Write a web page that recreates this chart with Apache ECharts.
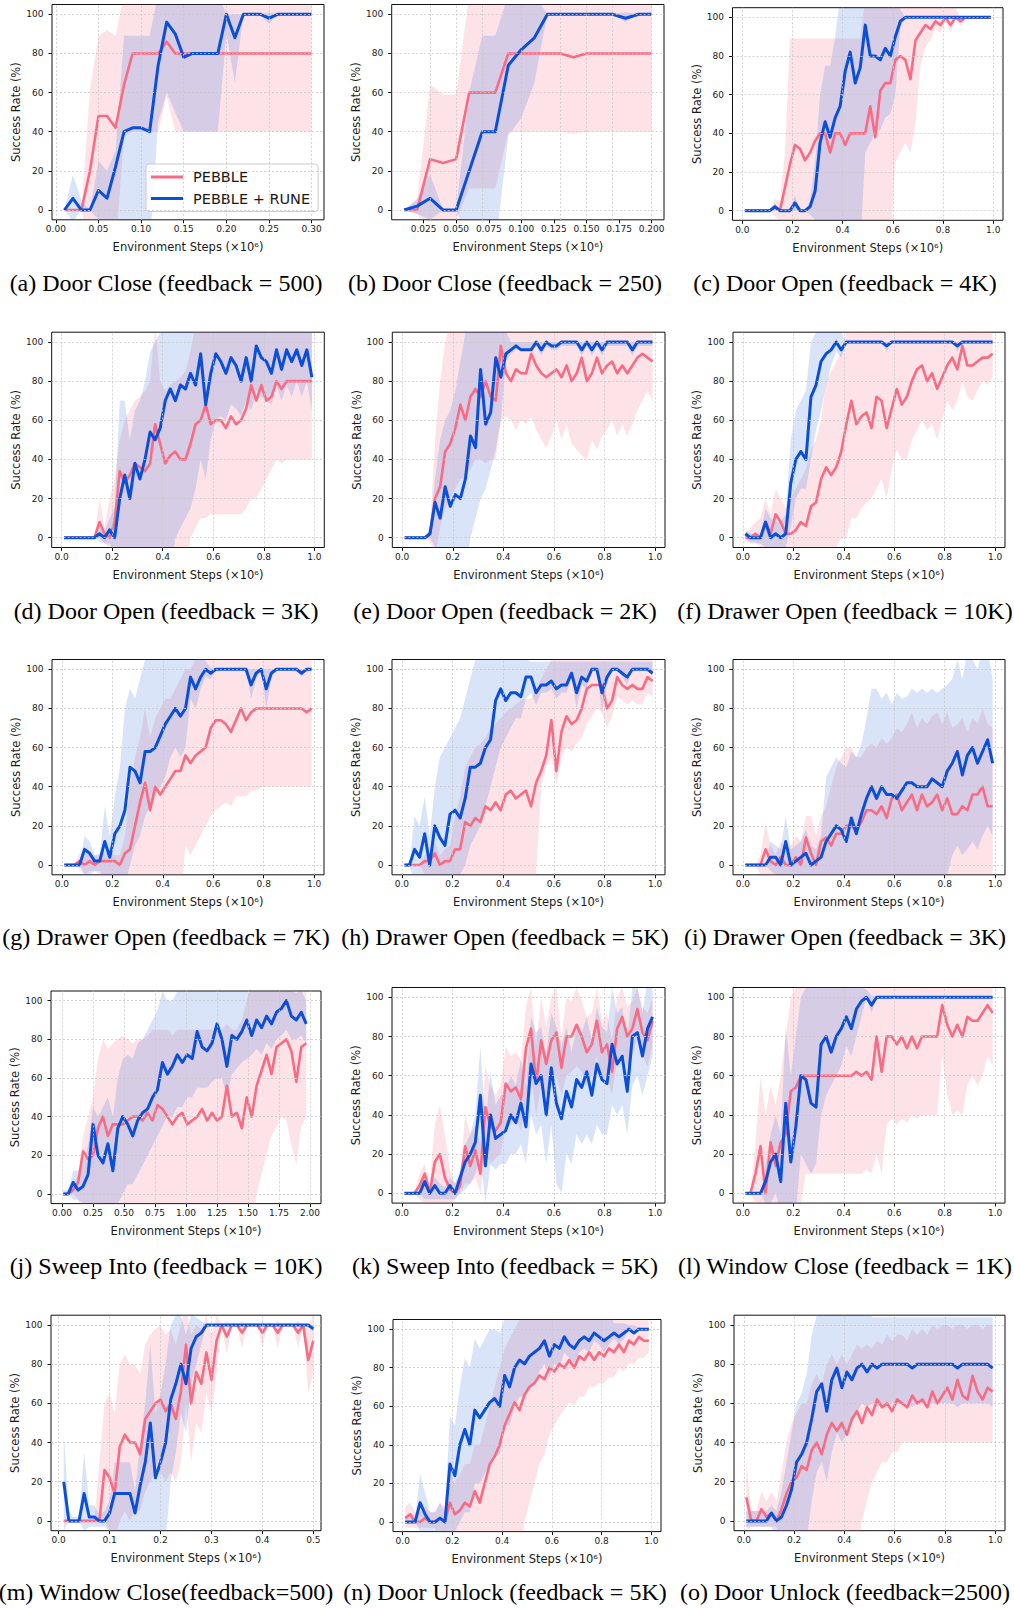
<!DOCTYPE html>
<html><head><meta charset="utf-8">
<script src="https://cdn.jsdelivr.net/npm/echarts@6/dist/echarts.min.js"></script>
<style>html,body{margin:0;padding:0;background:#fff}#chart{width:1014px;height:1608px}</style>
</head><body><div id="chart"></div>
<script>
// ---------------- DATA ----------------
const SERIES_NAMES = ['PEBBLE', 'PEBBLE + RUNE'];
const Y_TICKS = [0, 20, 40, 60, 80, 100];
const TICKS_A = [0, 0.05, 0.1, 0.15, 0.2, 0.25, 0.3];
const TICKS_B = [0.025, 0.05, 0.075, 0.1, 0.125, 0.15, 0.175, 0.2];
const TICKS_1M = [0, 0.2, 0.4, 0.6, 0.8, 1.0];
const TICKS_J = [0, 0.25, 0.5, 0.75, 1.0, 1.25, 1.5, 1.75, 2.0];
const TICKS_M = [0, 0.1, 0.2, 0.3, 0.4, 0.5];
const CAPTIONS = [
  '(a) Door Close (feedback = 500)', '(b) Door Close (feedback = 250)', '(c) Door Open (feedback = 4K)',
  '(d) Door Open (feedback = 3K)', '(e) Door Open (feedback = 2K)', '(f) Drawer Open (feedback = 10K)',
  '(g) Drawer Open (feedback = 7K)', '(h) Drawer Open (feedback = 5K)', '(i) Drawer Open (feedback = 3K)',
  '(j) Sweep Into (feedback = 10K)', '(k) Sweep Into (feedback = 5K)', '(l) Window Close (feedback = 1K)',
  '(m) Window Close(feedback=500)', '(n) Door Unlock (feedback = 5K)', '(o) Door Unlock (feedback=2500)'
];

const X_A = [0.01,0.02,0.03,0.04,0.05,0.06,0.07,0.08,0.09,0.10, 0.11,0.12,0.13,0.14,0.15,0.16,0.17,0.18,0.19,0.20, 0.21,0.22,0.23,0.24,0.25,0.26,0.27,0.28,0.29,0.30];
const X_B = [0.01,0.02,0.03,0.04,0.05,0.06,0.07,0.08,0.09,0.10, 0.11,0.12,0.13,0.14,0.15,0.16,0.17,0.18,0.19,0.20];
const X_1M = [0.01,0.03,0.05,0.07,0.09,0.11,0.13,0.15,0.17,0.19, 0.21,0.23,0.25,0.27,0.29,0.31,0.33,0.35,0.37,0.39, 0.41,0.43,0.45,0.47,0.49,0.51,0.53,0.55,0.57,0.59, 0.61,0.63,0.65,0.67,0.69,0.71,0.73,0.75,0.77,0.79, 0.81,0.83,0.85,0.87,0.89,0.91,0.93,0.95,0.97,0.99];
const X_J = [0.01,0.05,0.09,0.13,0.17,0.21,0.25,0.29,0.33,0.37, 0.41,0.45,0.49,0.53,0.57,0.61,0.65,0.69,0.73,0.77, 0.81,0.85,0.89,0.93,0.97,1.01,1.05,1.09,1.13,1.17, 1.21,1.25,1.29,1.33,1.37,1.41,1.45,1.49,1.53,1.57, 1.61,1.65,1.69,1.73,1.77,1.81,1.85,1.89,1.93,1.97];
const X_M = [0.01,0.02,0.03,0.04,0.05,0.06,0.07,0.08,0.09,0.10, 0.11,0.12,0.13,0.14,0.15,0.16,0.17,0.18,0.19,0.20, 0.21,0.22,0.23,0.24,0.25,0.26,0.27,0.28,0.29,0.30, 0.31,0.32,0.33,0.34,0.35,0.36,0.37,0.38,0.39,0.40, 0.41,0.42,0.43,0.44,0.45,0.46,0.47,0.48,0.49,0.50];

// (a)
const A_PEB = [0,0,0,20,48,48,42,64,80,80, 80,80,86,80,80,80,80,80,80,80, 80,80,80,80,80,80,80,80,80,80];
const A_RUNE = [0,6,0,0,10,6,22,40,42,42, 40,74,96,90,78,80,80,80,80,100, 88,100,100,100,98,100,100,100,100,100];
const A_PEB_LO = [0,0,0,-20,-20,-20,-20,38,40,40, 40,40,58,40,40,40,40,40,40,40, 40,40,40,40,40,40,40,40,40,40];
const A_PEB_HI = [0,0,0,61,89,92,89,110,110,110, 110,110,110,110,110,110,110,110,110,110, 110,110,110,110,110,110,110,110,110,110];
const A_RUNE_LO = [0,-6,0,0,-5,-10,-20,-20,-20,-20, -20,45,60,50,40,40,40,40,40,90, 65,100,100,100,95,100,100,100,100,100];
const A_RUNE_HI = [0,18,5,0,25,20,30,89,89,89, 89,110,110,110,110,110,110,110,110,100, 100,100,100,100,101,100,100,100,100,100];
// (b)
const B_PEB = [0,0,26,24,26,60,60,60,80,80, 80,80,80,78,80,80,80,80,80,80];
const B_RUNE = [0,2,6,0,0,20,40,40,74,82, 88,100,100,100,100,100,100,98,100,100];
const B_PEB_LO = [0,-2,-10,-5,-5,11,11,11,40,40, 40,40,40,39,40,40,40,40,40,40];
const B_PEB_HI = [0,5,64,59,59,110,110,110,110,110, 110,110,110,110,110,110,110,110,110,110];
const B_RUNE_LO = [0,-2,-5,0,0,-20,-20,-20,38,47, 65,100,100,100,100,100,100,96,100,100];
const B_RUNE_HI = [0,6,18,0,0,60,89,89,110,110, 110,100,100,100,100,100,100,101,100,100];
// (c)
const C_PEB = [0,0,0,0,0,0,2,0,12,24, 34,32,26,30,36,40,40,30,40,40, 34,40,40,40,40,54,38,62,66,66, 78,80,78,68,88,92,96,94,98,96, 100,96,100,98,100,100,100,100,100,100];
const C_RUNE = [0,0,0,0,0,0,2,0,0,0, 4,0,0,2,10,35,46,38,48,54, 72,82,66,74,96,80,80,78,84,80, 90,98,100,100,100,100,100,100,100,100, 100,100,100,100,100,100,100,100,100,100];
const C_PEB_LO = [0,0,0,0,0,0,-3,-5,-20,-20, -20,-20,-20,-20,-20,-20,-20,-20,-20,-20, -20,-20,-20,-20,-20,-20,-20,-20,-20,-20, 25,30,35,30,45,75,85,88,94,92, 98,92,100,95,100,100,100,100,100,100];
const C_PEB_HI = [0,0,0,0,0,0,6,5,30,89, 89,89,89,89,89,89,89,89,89,89, 89,89,89,89,110,110,110,110,110,110, 110,110,110,110,110,110,110,110,110,110, 110,110,105,100,100,100,100,100,100,100];
const C_RUNE_LO = [0,0,0,0,0,0,0,0,0,0, 0,0,0,-2,-5,-5,-5,-10,-20,-20, -20,-20,-20,-20,30,35,40,42,48,50, 60,95,100,100,100,100,100,100,100,100, 100,100,100,100,100,100,100,100,100,100];
const C_RUNE_HI = [0,0,0,0,0,0,4,0,0,0, 8,0,0,5,25,60,75,75,90,110, 110,110,110,110,110,110,110,110,110,110, 110,104,100,100,100,100,100,100,100,100, 100,100,100,100,100,100,100,100,100,100];
// (d)
const D_PEB = [0,0,0,0,0,0,0,8,2,0, 8,34,28,32,38,36,34,38,58,48, 38,42,44,40,40,48,58,60,68,58, 60,60,56,62,58,60,66,78,70,78, 70,72,80,76,80,80,80,80,80,80];
const D_RUNE = [0,0,0,0,0,0,0,2,0,4, 0,20,32,20,38,30,40,54,50,56, 70,76,70,78,76,84,78,94,68,84, 94,90,84,92,88,80,92,80,98,92, 90,84,96,86,96,90,96,88,96,82];
const D_PEB_LO = [0,0,0,0,0,0,0,0,-3,-5, -10,-20,-20,-20,-20,-20,-20,-20,-20,-20, -20,-20,-20,-20,-20,0,5,10,10,12, 12,12,12,12,12,12,15,20,20,25, 30,35,40,38,40,40,40,40,40,40];
const D_PEB_HI = [0,0,0,0,0,0,0,20,5,20, 30,50,60,65,70,72,75,80,110,80, 75,78,80,82,85,95,110,110,110,110, 110,110,110,110,110,110,110,110,110,110, 110,110,110,110,110,110,110,110,110,110];
const D_RUNE_LO = [0,0,0,0,0,0,0,-2,-3,-3, -8,-20,-20,-20,-20,-20,-20,-20,-20,-20, -20,-20,0,5,10,15,25,40,30,50, 60,62,60,68,66,62,70,65,75,72, 70,68,78,70,78,72,80,72,80,65];
const D_RUNE_HI = [0,0,0,0,0,0,0,5,3,10, 15,70,70,50,65,70,80,95,100,105, 110,110,110,110,110,110,110,110,110,110, 110,110,110,110,110,110,110,110,110,110, 110,110,110,110,110,110,110,110,110,110];
// (e)
const E_PEB = [0,0,0,0,0,2,20,26,44,48, 56,68,60,72,76,72,80,72,70,98, 84,80,86,84,84,94,88,84,82,84, 86,82,88,80,84,92,80,84,92,84, 88,90,84,88,84,88,92,94,92,90];
const E_RUNE = [0,0,0,0,0,2,18,10,26,16, 22,20,30,52,46,86,58,64,92,82, 94,96,98,96,96,96,100,96,100,98, 98,100,100,100,100,96,100,96,100,96, 100,100,100,100,100,96,100,100,100,100];
const E_PEB_LO = [0,0,0,0,0,-2,-10,5,15,20, 25,30,30,35,40,40,38,40,40,60, 62,60,55,60,58,62,55,50,46,52, 60,50,58,48,45,42,40,50,45,52, 55,60,52,58,52,58,65,70,75,70];
const E_PEB_HI = [0,0,0,0,0,5,50,80,100,110, 110,110,110,110,110,110,110,110,110,110, 110,110,110,110,110,110,110,110,110,110, 110,110,110,110,110,110,110,110,110,110, 110,110,110,110,110,110,110,110,110,110];
const E_RUNE_LO = [0,0,0,0,0,0,-5,-15,-20,-20, -20,-20,-20,0,10,20,25,35,45,60, 90,94,96,96,96,96,98,93,98,96, 96,98,98,98,98,93,98,93,98,93, 98,98,98,98,98,93,98,98,98,98];
const E_RUNE_HI = [0,0,0,0,0,5,30,50,60,65, 75,90,105,110,110,110,110,110,110,110, 105,100,100,100,100,100,100,100,100,100, 100,100,100,100,100,100,100,100,100,100, 100,100,100,100,100,100,100,100,100,100];
// (f)
const F_PEB = [0,0,2,0,8,2,12,8,2,2, 4,8,6,16,18,30,36,32,36,44, 58,70,58,62,64,56,72,70,56,66, 76,68,72,80,86,88,80,84,76,82, 88,92,86,98,88,88,90,92,92,94];
const F_RUNE = [2,0,0,0,8,0,2,0,2,28, 40,44,40,72,78,90,94,96,100,96, 100,100,100,100,100,100,100,100,98,100, 100,100,100,100,100,100,100,100,100,100, 100,100,98,100,100,100,100,100,100,100];
const F_PEB_LO = [-2,-2,-2,-5,-5,-5,-5,-5,-5,-10, -20,-20,-20,-20,-20,-20,-20,-20,-5,0, 0,10,10,15,18,20,25,30,20,35, 45,40,40,50,55,60,55,58,50,60, 70,65,70,80,72,70,75,80,78,82];
const F_PEB_HI = [2,5,8,10,20,12,25,20,15,20, 25,30,35,45,50,60,80,85,90,95, 105,110,110,110,110,110,110,110,110,110, 110,110,110,110,110,110,110,110,110,110, 110,110,110,110,110,110,110,110,110,110];
const F_RUNE_LO = [0,-3,-3,-3,-5,-5,-5,-5,-5,5, 20,25,25,40,55,65,78,88,95,92, 100,100,100,100,100,100,100,100,95,100, 100,100,100,100,100,100,100,100,100,100, 100,100,95,100,100,100,100,100,100,100];
const F_RUNE_HI = [4,2,2,2,15,10,8,8,12,50, 65,70,75,100,105,110,110,110,110,105, 100,100,100,100,100,100,100,100,100,100, 100,100,100,100,100,100,100,100,100,100, 100,100,100,100,100,100,100,100,100,100];
// (g)
const G_PEB = [0,0,0,2,0,2,0,2,2,2, 2,0,6,8,20,32,42,28,40,36, 40,44,48,48,56,52,56,58,60,70, 74,74,72,68,74,80,74,78,80,80, 80,80,80,80,80,80,80,80,78,80];
const G_RUNE = [0,0,0,0,8,6,2,2,12,4, 16,20,28,50,48,42,58,58,60,66, 72,76,80,76,80,96,90,96,100,98, 100,100,100,100,100,100,100,92,98,100, 90,98,100,100,100,100,100,98,100,100];
const G_PEB_LO = [0,0,0,-2,-5,-3,-3,-5,-5,-5, -5,-5,-5,-20,-20,-20,-20,-20,-20,-20, -20,-20,-20,-20,10,5,10,15,20,25, 28,30,32,30,35,35,35,38,38,40, 40,40,40,40,40,40,40,40,40,40];
const G_PEB_HI = [0,0,0,6,6,5,5,6,6,6, 5,5,15,40,55,65,80,65,75,80, 85,85,90,95,100,100,105,110,110,110, 110,110,110,110,110,110,110,110,110,110, 110,110,110,110,110,110,110,110,110,110];
const G_RUNE_LO = [0,0,0,0,-5,-5,-3,-3,-10,-10, -10,-10,-10,0,10,15,25,30,35,40, 45,55,60,55,60,85,80,90,96,95, 100,100,100,100,100,100,100,85,95,100, 80,95,100,100,100,100,100,96,100,100];
const G_RUNE_HI = [0,0,0,0,15,12,5,5,30,15, 35,50,80,90,85,95,105,110,110,110, 110,110,110,110,110,110,110,110,104,101, 100,100,100,100,100,100,100,100,100,100, 100,100,100,100,100,100,100,100,100,100];
// (h)
const H_PEB = [0,0,0,0,2,2,6,0,2,2, 8,8,22,20,24,22,30,28,32,28, 36,38,34,36,38,30,42,48,56,74, 48,68,76,72,74,80,90,92,92,92, 80,84,96,92,90,92,90,90,96,94];
const H_RUNE = [0,0,8,4,16,0,20,14,10,26, 28,24,34,50,50,52,60,64,84,90, 84,88,88,86,96,96,88,92,92,94, 90,92,92,98,88,96,94,100,100,88, 96,100,100,98,96,100,100,100,100,98];
const H_PEB_LO = [0,0,0,0,-5,-5,-5,-5,-5,-5, -10,-20,-20,-20,-20,-20,-20,-20,-20,-20, -20,-20,-20,-20,-20,-20,-5,40,50,55, 40,55,60,58,62,65,72,76,80,78, 70,76,86,84,82,84,82,82,88,86];
const H_PEB_HI = [0,0,0,0,5,6,12,5,8,10, 25,35,50,55,60,62,65,70,72,75, 78,80,82,84,85,85,90,95,100,105, 105,110,110,110,110,110,110,110,110,110, 110,110,110,110,110,105,105,105,105,105];
const H_RUNE_LO = [0,0,-10,-10,-10,-10,-10,-10,-10,-10, -10,-5,0,10,15,20,30,40,50,60, 65,70,75,75,85,88,82,88,88,90, 85,88,88,95,80,92,90,100,100,78, 92,100,100,96,92,100,100,100,100,96];
const H_RUNE_HI = [0,0,25,20,35,15,40,55,60,65, 70,75,85,95,105,110,110,110,110,110, 110,110,110,110,105,104,104,104,104,104, 104,104,104,104,104,104,104,104,104,104, 104,104,104,104,104,104,104,104,104,104];
// (i)
const I_PEB = [0,0,0,0,8,2,0,4,0,0, 4,0,14,6,0,12,14,10,16,16, 20,20,18,22,28,28,26,30,24,34, 36,28,32,36,28,36,30,32,36,28, 34,26,26,30,28,36,36,40,30,30];
const I_RUNE = [0,0,0,0,0,4,4,0,12,0, 2,4,6,0,2,4,12,16,20,18, 12,24,16,26,34,40,34,40,36,36, 34,38,42,42,40,40,40,44,42,40, 48,52,58,46,56,60,52,58,64,52];
const I_PEB_LO = [0,0,0,-5,-5,-5,-5,-5,-5,-5, -5,-5,-8,-8,-5,-10,-20,-20,-20,-20, -20,-20,-20,-20,-20,-20,-20,-20,-20,-20, -20,-20,-20,-20,-20,-20,-20,-20,-20,-20, -10,-10,-10,-10,-10,-10,-10,-10,-10,-10];
const I_PEB_HI = [0,0,0,5,22,10,5,12,8,10, 15,12,25,25,15,25,30,40,50,55, 60,60,55,55,60,62,60,65,62,65, 70,68,72,78,70,75,72,76,78,72, 78,70,72,75,68,75,72,80,72,70];
const I_RUNE_LO = [0,0,0,0,0,-3,-5,-5,-5,-5, -5,-5,-5,-5,-5,-5,-20,-20,-20,-20, -20,-20,-20,-20,-20,-20,-20,-20,-20,-20, -20,-20,-20,-20,-20,-20,-20,-20,-20,-20, -5,5,10,5,8,12,8,15,20,15];
const I_RUNE_HI = [0,0,0,0,0,12,10,8,25,8, 10,12,18,10,8,15,45,50,55,52, 50,58,55,62,75,90,90,85,88,82, 88,85,86,90,88,90,88,90,88,90, 92,95,105,95,110,105,100,110,110,95];
// (j)
const J_PEB = [0,0,2,6,22,18,20,34,40,30, 36,36,36,38,40,40,38,42,38,46, 44,40,36,40,42,36,38,40,44,38, 42,38,40,56,40,42,34,50,40,56, 64,72,62,76,78,80,74,58,76,78];
const J_RUNE = [0,0,6,2,4,10,36,20,16,26, 12,34,40,36,30,38,42,44,50,54, 68,62,66,72,68,72,70,84,76,74, 78,88,80,66,82,80,84,90,82,90, 86,92,88,94,96,100,92,90,94,88];
const J_PEB_LO = [0,0,0,-3,-20,-20,-20,-20,-20,-20, -20,-20,-20,-20,-20,-20,-20,-20,-20,-20, -20,-20,-20,-20,-20,-20,-20,-20,-20,-20, -20,-20,-20,-20,-20,-20,-20,-20,-20,0, 10,20,30,35,40,38,25,15,35,40];
const J_PEB_HI = [0,0,5,10,30,40,50,70,80,75, 78,80,82,80,78,80,80,82,85,85, 85,85,82,85,85,85,85,85,85,85, 85,85,85,88,85,85,90,100,110,110, 110,110,110,110,110,110,110,110,110,110];
const J_RUNE_LO = [0,0,-3,-3,-5,-10,-10,-10,-10,-10, -10,-5,0,5,5,10,15,20,25,30, 35,40,40,45,45,50,50,55,55,55, 58,60,60,50,62,65,68,70,72,75, 72,78,75,80,82,85,80,80,82,78];
const J_RUNE_HI = [2,2,12,12,15,25,45,40,45,50, 40,60,70,72,70,78,80,85,90,95, 105,100,100,105,105,110,110,110,110,110, 110,110,110,110,110,110,110,110,110,110, 110,110,110,110,108,110,105,104,105,100];
// (k)
const K_PEB = [0,0,0,4,10,0,16,20,8,2, 0,4,24,14,22,10,44,34,32,36, 56,52,54,48,74,84,56,78,66,78, 82,64,80,80,86,80,72,76,88,72, 76,62,84,90,80,84,94,82,78,88];
const K_RUNE = [0,0,0,0,6,0,4,0,0,4, 0,8,16,20,26,50,14,40,28,30, 32,40,36,46,34,66,56,60,40,64, 46,38,52,44,58,54,62,50,66,58, 56,76,66,70,52,80,82,70,84,90];
const K_PEB_LO = [0,0,0,-3,-5,-5,-5,-5,-5,-5, -3,0,5,5,8,0,20,15,18,20, 35,35,38,32,45,60,40,55,50,55, 60,50,60,62,65,62,55,60,70,58, 60,50,68,72,65,70,80,70,65,75];
const K_PEB_HI = [0,0,0,10,15,5,35,45,30,12, 5,10,40,30,35,25,65,55,50,55, 75,70,72,68,95,105,75,100,85,100, 105,80,100,98,105,98,90,92,105,88, 92,78,100,105,95,98,105,95,92,100];
const K_RUNE_LO = [0,0,0,0,-3,-3,-3,-3,-3,-3, -3,0,2,5,10,20,-5,15,12,15, 15,20,20,25,15,40,30,35,15,35, 5,0,20,15,30,25,30,25,35,30, 30,45,40,45,30,55,60,50,60,70];
const K_RUNE_HI = [0,0,0,0,10,5,8,5,3,8, 5,12,25,30,40,75,35,62,45,50, 52,60,55,68,55,90,82,85,70,92, 85,75,85,72,85,82,90,78,95,85, 82,105,92,95,78,105,105,92,108,108];
// (l)
const L_PEB = [0,0,10,24,0,26,14,26,30,52, 54,60,60,60,60,60,60,60,60,60, 60,60,62,60,62,58,80,62,80,80, 76,80,74,80,74,80,80,80,80,96, 86,80,86,80,90,88,88,92,96,92];
const L_RUNE = [0,0,0,0,6,16,20,6,46,16, 34,60,58,46,44,76,80,72,80,84, 90,84,94,98,100,96,100,100,100,100, 100,100,100,100,100,100,100,100,100,100, 100,100,100,100,100,100,100,100,100,100];
const L_PEB_LO = [0,0,-5,-5,-20,-20,-20,-20,-20,-20, -20,-5,10,10,10,10,10,10,10,10, 10,10,10,10,12,10,20,10,35,38, 35,38,36,40,38,40,40,40,40,70, 50,40,42,40,55,60,55,60,70,65];
const L_PEB_HI = [0,0,25,60,40,55,45,60,80,100, 105,110,110,110,110,110,110,110,110,110, 110,110,110,110,110,110,110,110,110,110, 110,110,110,110,110,110,110,110,110,110, 110,110,110,110,110,110,110,110,110,110];
const L_RUNE_LO = [0,0,0,0,-5,-5,0,-10,-10,-15, -10,20,15,10,15,40,50,55,60,65, 75,70,80,90,100,92,100,100,100,100, 100,100,100,100,100,100,100,100,100,100, 100,100,100,100,100,100,100,100,100,100];
const L_RUNE_HI = [0,0,0,0,15,30,40,30,85,60, 80,100,105,105,105,110,110,110,110,110, 110,110,110,105,104,101,100,100,100,100, 100,100,100,100,100,100,100,100,100,100, 100,100,100,100,100,100,100,100,100,100];
// (m)
const M_PEB = [0,0,0,0,0,0,0,0,26,22, 14,38,44,40,40,34,52,56,60,62, 56,60,52,66,90,60,76,70,86,72, 92,100,94,100,100,96,100,100,100,96, 100,100,96,100,100,100,96,100,82,92];
const M_RUNE = [20,0,0,0,14,2,2,0,0,4, 14,14,14,14,4,18,30,50,22,30, 40,62,70,80,70,88,94,96,100,100, 100,100,100,100,100,100,100,100,100,100, 100,100,100,100,100,100,100,100,100,98];
const M_PEB_LO = [0,0,0,0,0,0,0,0,0,-5, -10,0,5,0,5,5,15,20,25,25, 20,25,20,30,60,30,50,45,65,55, 75,100,85,100,100,88,100,100,100,88, 100,100,88,100,100,100,88,100,65,75];
const M_PEB_HI = [0,0,0,0,0,0,0,30,60,65, 55,80,85,80,80,75,90,95,98,100, 95,98,90,100,110,95,100,98,105,95, 105,100,102,100,100,102,100,100,100,102, 100,100,102,100,100,100,102,100,100,105];
const M_RUNE_LO = [-5,0,0,0,-5,-3,-3,-3,-3,-5, -5,-5,-5,-5,-5,-10,-10,-10,-10,-10, -10,20,35,55,45,70,80,90,100,100, 100,100,100,100,100,100,100,100,100,100, 100,100,100,100,100,100,100,100,100,96];
const M_RUNE_HI = [45,5,2,2,35,8,8,3,5,10, 30,30,30,30,15,40,60,90,55,65, 80,100,105,105,95,105,104,102,100,100, 100,100,100,100,100,100,100,100,100,100, 100,100,100,100,100,100,100,100,100,100];
// (n)
const N_PEB = [2,4,0,0,2,0,0,2,0,10, 4,6,10,8,16,10,20,30,34,40, 50,56,62,58,66,70,72,76,74,80, 78,82,80,84,80,86,84,88,84,88, 86,90,88,92,88,94,92,96,94,94];
const N_RUNE = [0,0,0,10,4,0,0,2,0,30, 24,40,48,40,58,54,58,62,64,60, 76,70,80,84,82,86,88,90,94,86, 92,90,96,92,90,94,96,94,98,96, 94,96,98,96,98,100,98,100,100,100];
const N_PEB_LO = [-3,-3,-3,-3,-3,-3,-3,-20,-20,-20, -20,-20,-20,-20,-20,-20,-20,-20,-20,-20, -20,-20,-20,-20,0,10,20,30,35,45, 50,55,58,62,60,65,65,70,70,72, 72,75,75,80,78,82,82,85,85,88];
const N_PEB_HI = [8,10,5,5,8,5,5,10,8,25, 20,25,30,30,40,40,50,60,70,80, 90,95,100,105,110,110,110,110,110,110, 110,110,110,110,110,110,110,110,110,110, 110,110,110,110,110,110,105,105,105,105];
const N_RUNE_LO = [0,0,0,-5,-5,-5,-5,-5,-5,-5, -5,0,5,5,20,20,25,30,35,35, 50,50,60,65,65,70,72,78,82,75, 82,80,88,85,82,88,90,88,94,92, 88,92,95,92,95,100,100,100,100,100];
const N_RUNE_HI = [2,2,2,25,15,5,5,10,5,55, 50,70,85,80,95,90,95,100,100,98, 105,110,110,110,110,110,110,110,110,110, 110,110,110,110,110,110,110,110,110,110, 110,110,103,103,103,102,102,101,100,100];
// (o)
const O_PEB = [12,0,0,6,2,4,0,6,14,20, 22,28,26,36,40,34,44,50,46,50, 44,52,56,50,58,54,62,58,60,56, 62,60,58,64,60,62,58,66,60,64, 68,62,72,64,62,74,66,62,68,66];
const O_RUNE = [0,0,0,0,0,4,0,2,8,16, 30,34,40,52,66,70,56,72,78,68, 76,72,78,80,76,80,78,80,80,80, 80,80,80,78,80,80,80,80,80,80, 80,80,78,80,80,80,80,80,80,78];
const O_PEB_LO = [-5,-3,-3,-3,-3,-3,-3,-20,-20,-20, -20,-20,-20,-20,-20,-20,-20,-20,-20,-20, -20,-20,-20,0,10,20,25,30,30,35, 35,40,40,40,40,40,40,40,40,40, 40,40,40,40,40,40,40,40,40,40];
const O_PEB_HI = [30,5,5,15,10,15,10,25,40,50, 55,60,60,70,75,70,80,85,80,85, 80,85,90,88,90,88,92,90,95,92, 95,95,92,98,95,98,95,100,98,100, 100,98,100,100,98,100,100,98,100,100];
const O_RUNE_LO = [-3,-3,-3,-3,-3,-3,-10,-10,-10,-10, -10,-10,-10,10,25,30,20,35,45,40, 45,50,55,60,58,60,58,60,60,60, 60,60,60,58,60,60,60,60,60,60, 60,60,58,60,60,60,60,60,60,58];
const O_RUNE_HI = [5,5,5,5,5,8,5,15,30,45, 60,65,75,95,105,110,110,110,110,110, 110,110,110,110,110,104,104,104,104,104, 104,104,104,104,104,104,104,104,104,104, 104,104,104,104,104,104,104,104,104,104];

// ---------------- PANEL DEFINITIONS (data refs + axis ranges) ----------------
const PANELS = [
  {x:X_A, ticks:TICKS_A, dec:2, range:[-0.0045,0.3145], peb:A_PEB, rune:A_RUNE, pLo:A_PEB_LO, pHi:A_PEB_HI, rLo:A_RUNE_LO, rHi:A_RUNE_HI},
  {x:X_B, ticks:TICKS_B, dec:3, range:[0.0005,0.2095], peb:B_PEB, rune:B_RUNE, pLo:B_PEB_LO, pHi:B_PEB_HI, rLo:B_RUNE_LO, rHi:B_RUNE_HI},
  {x:X_1M, ticks:TICKS_1M, dec:1, range:[-0.039,1.039], peb:C_PEB, rune:C_RUNE, pLo:C_PEB_LO, pHi:C_PEB_HI, rLo:C_RUNE_LO, rHi:C_RUNE_HI},
  {x:X_1M, ticks:TICKS_1M, dec:1, range:[-0.039,1.039], peb:D_PEB, rune:D_RUNE, pLo:D_PEB_LO, pHi:D_PEB_HI, rLo:D_RUNE_LO, rHi:D_RUNE_HI},
  {x:X_1M, ticks:TICKS_1M, dec:1, range:[-0.039,1.039], peb:E_PEB, rune:E_RUNE, pLo:E_PEB_LO, pHi:E_PEB_HI, rLo:E_RUNE_LO, rHi:E_RUNE_HI},
  {x:X_1M, ticks:TICKS_1M, dec:1, range:[-0.039,1.039], peb:F_PEB, rune:F_RUNE, pLo:F_PEB_LO, pHi:F_PEB_HI, rLo:F_RUNE_LO, rHi:F_RUNE_HI},
  {x:X_1M, ticks:TICKS_1M, dec:1, range:[-0.039,1.039], peb:G_PEB, rune:G_RUNE, pLo:G_PEB_LO, pHi:G_PEB_HI, rLo:G_RUNE_LO, rHi:G_RUNE_HI},
  {x:X_1M, ticks:TICKS_1M, dec:1, range:[-0.039,1.039], peb:H_PEB, rune:H_RUNE, pLo:H_PEB_LO, pHi:H_PEB_HI, rLo:H_RUNE_LO, rHi:H_RUNE_HI},
  {x:X_1M, ticks:TICKS_1M, dec:1, range:[-0.039,1.039], peb:I_PEB, rune:I_RUNE, pLo:I_PEB_LO, pHi:I_PEB_HI, rLo:I_RUNE_LO, rHi:I_RUNE_HI},
  {x:X_J, ticks:TICKS_J, dec:2, range:[-0.089,2.089], peb:J_PEB, rune:J_RUNE, pLo:J_PEB_LO, pHi:J_PEB_HI, rLo:J_RUNE_LO, rHi:J_RUNE_HI},
  {x:X_1M, ticks:TICKS_1M, dec:1, range:[-0.039,1.039], peb:K_PEB, rune:K_RUNE, pLo:K_PEB_LO, pHi:K_PEB_HI, rLo:K_RUNE_LO, rHi:K_RUNE_HI},
  {x:X_1M, ticks:TICKS_1M, dec:1, range:[-0.039,1.039], peb:L_PEB, rune:L_RUNE, pLo:L_PEB_LO, pHi:L_PEB_HI, rLo:L_RUNE_LO, rHi:L_RUNE_HI},
  {x:X_M, ticks:TICKS_M, dec:1, range:[-0.015,0.515], peb:M_PEB, rune:M_RUNE, pLo:M_PEB_LO, pHi:M_PEB_HI, rLo:M_RUNE_LO, rHi:M_RUNE_HI},
  {x:X_1M, ticks:TICKS_1M, dec:1, range:[-0.039,1.039], peb:N_PEB, rune:N_RUNE, pLo:N_PEB_LO, pHi:N_PEB_HI, rLo:N_RUNE_LO, rHi:N_RUNE_HI},
  {x:X_1M, ticks:TICKS_1M, dec:1, range:[-0.039,1.039], peb:O_PEB, rune:O_RUNE, pLo:O_PEB_LO, pHi:O_PEB_HI, rLo:O_RUNE_LO, rHi:O_RUNE_HI}
];

// ---------------- LAYOUT & STYLE ----------------
const BOXES = [ // left, top, width, height of each plot area
  [52,4.5,272,215.3],[391.7,4.5,272.3,215.3],[732.5,7.7,270.5,212.6],
  [51.7,332.2,272.6,215.3],[392.3,332.2,272.7,215.3],[733,332.2,272,215.3],
  [52,659.5,272,215.3],[392,659.5,273,215.3],[733,659.5,272,215.3],
  [51,991,270,212.6],[392,987.5,273,215.6],[733,987.5,272,215.6],
  [51,1315.2,270,215.5],[393,1319.5,268,212.1],[734,1315.2,271,215.5]
];
const CAP_X = [166, 505, 845];
const CAP_Y = [283, 611, 937, 1266, 1592];
const FONT = '"DejaVu Sans", sans-serif';
const SERIF = '"Liberation Serif", "Times New Roman", serif';
const PEB_COLOR = '#F96B83';
const RUNE_COLOR = '#0B4FD8';
const PEB_BAND = 'rgba(247,105,127,0.19)';
const RUNE_BAND = 'rgba(20,90,220,0.16)';
const TEXT_COLOR = '#1a1a1a';

function bandSeries(i, xs, lo, hi, color) {
  const data = xs.map((x, k) => [x, lo[k], hi[k]]);
  return {
    type: 'custom', xAxisIndex: i, yAxisIndex: i, data: data, clip: true, silent: true, z: 1,
    encode: {x: 0, y: [1, 2]},
    renderItem: function (params, api) {
      if (params.dataIndexInside !== 0) return null;
      const pts = [];
      for (let k = 0; k < data.length; k++) pts.push(api.coord([data[k][0], data[k][2]]));
      for (let k = data.length - 1; k >= 0; k--) pts.push(api.coord([data[k][0], data[k][1]]));
      return {type: 'polygon', shape: {points: pts}, style: {fill: color}};
    }
  };
}
function lineSeries(i, name, xs, ys, color, w, z) {
  return {
    type: 'line', name: name, xAxisIndex: i, yAxisIndex: i, z: z, silent: true, clip: true,
    data: xs.map((x, k) => [x, ys[k]]), symbol: 'none', showSymbol: false,
    lineStyle: {color: color, width: w, join: 'round'}, itemStyle: {color: color}
  };
}
function gridLineSeries(i, xt) {
  return {
    type: 'line', xAxisIndex: i, yAxisIndex: i, data: [], silent: true, z: 2,
    markLine: {
      silent: true, symbol: ['none', 'none'], label: {show: false}, animation: false,
      lineStyle: {color: '#c8c8c8', width: 0.8, type: [2, 2]},
      emphasis: {disabled: true},
      data: xt.map(v => ({xAxis: v})).concat(Y_TICKS.map(v => ({yAxis: v})))
    }
  };
}

const grids = [], xAxes = [], yAxes = [], series = [], graphics = [];
PANELS.forEach((p, i) => {
  const b = BOXES[i];
  const col = i % 3, row = Math.floor(i / 3);
  grids.push({left: b[0], top: b[1], width: b[2], height: b[3], show: true, borderColor: '#111',
    borderWidth: 1, backgroundColor: 'transparent', containLabel: false, outerBoundsMode: 'none'});
  xAxes.push({
    gridIndex: i, type: 'value', min: p.range[0], max: p.range[1],
    axisLine: {show: false, onZero: false},
    axisTick: {show: true, length: 3.5, lineStyle: {color: '#111', width: 1}, customValues: p.ticks},
    axisLabel: {customValues: p.ticks, formatter: v => Number(v).toFixed(p.dec), fontSize: 9,
      color: TEXT_COLOR, fontFamily: FONT, margin: 5},
    splitLine: {show: false},
    name: 'Environment Steps (×10⁶)', nameLocation: 'middle', nameGap: 21.5,
    nameTextStyle: {fontSize: 11.5, color: TEXT_COLOR, fontFamily: FONT}
  });
  yAxes.push({
    gridIndex: i, type: 'value', min: -5, max: 105,
    axisLine: {show: false, onZero: false},
    axisTick: {show: true, length: 3.5, lineStyle: {color: '#111', width: 1}, customValues: Y_TICKS},
    axisLabel: {customValues: Y_TICKS, fontSize: 9, color: TEXT_COLOR, fontFamily: FONT, margin: 8.5},
    splitLine: {show: false},
    name: 'Success Rate (%)', nameLocation: 'middle', nameGap: col === 2 ? 27 : 26,
    nameTextStyle: {fontSize: 11.5, color: TEXT_COLOR, fontFamily: FONT}
  });
  series.push(bandSeries(i, p.x, p.pLo, p.pHi, PEB_BAND));
  series.push(bandSeries(i, p.x, p.rLo, p.rHi, RUNE_BAND));
  series.push(gridLineSeries(i, p.ticks));
  series.push(lineSeries(i, SERIES_NAMES[0], p.x, p.peb, PEB_COLOR, 2.6, 3));
  series.push(lineSeries(i, SERIES_NAMES[1], p.x, p.rune, RUNE_COLOR, 3, 4));
  graphics.push({type: 'text', x: CAP_X[col], y: CAP_Y[row], silent: true,
    style: {text: CAPTIONS[i], fontSize: 24, fontFamily: SERIF, fill: '#000',
      textAlign: 'center', textVerticalAlign: 'middle'}});
});

const chart = echarts.init(document.getElementById('chart'), null, {renderer: 'svg', width: 1014, height: 1608});
chart.setOption({
  animation: false,
  backgroundColor: '#ffffff',
  grid: grids, xAxis: xAxes, yAxis: yAxes, series: series, graphic: graphics,
  legend: {
    data: SERIES_NAMES, orient: 'vertical', left: 146, top: 164, selectedMode: false,
    icon: 'rect', itemWidth: 32, itemHeight: 3, itemGap: 5.5,
    padding: [5, 8, 5, 5], backgroundColor: 'rgba(255,255,255,0.85)',
    borderColor: '#cccccc', borderWidth: 1, borderRadius: 3,
    textStyle: {fontSize: 14.5, fontFamily: FONT, color: TEXT_COLOR, lineHeight: 16, padding: [0, 0, 0, 5]}
  }
});
</script></body></html>
